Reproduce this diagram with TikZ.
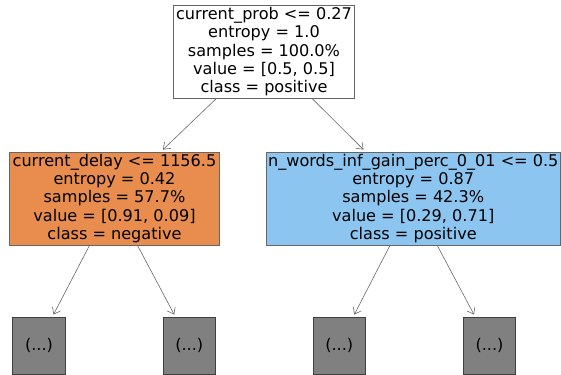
\documentclass[tikz,border=0pt]{standalone}
\usepackage{fontspec}
\setmainfont{DejaVu Sans}
\usetikzlibrary{arrows.meta}
\definecolor{negfill}{RGB}{232,141,77}
\definecolor{posfill}{RGB}{139,197,240}
\definecolor{edgegray}{RGB}{105,105,105}
\tikzset{
  treebox/.style={draw=black!60, line width=0.8pt, inner sep=0pt, align=center,
    font=\fontsize{16.1}{18.2}\selectfont},
  leafbox/.style={draw=black!75, fill=black!50, line width=0.8pt, inner sep=0pt,
    minimum width=52.5pt, minimum height=57.5pt,
    font=\fontsize{16.1}{18.2}\selectfont},
  edge/.style={draw=edgegray, line width=0.6pt,
    -{Straight Barb[length=6pt,width=9pt,line width=0.6pt]}}
}
\begin{document}
\begin{tikzpicture}[x=1pt,y=-1pt]
\useasboundingbox (0,0) rectangle (561,374);
% split nodes
\node[treebox, fill=white, minimum width=181pt, minimum height=93.5pt] (root) at (264,51.75)
  {current\_prob <= 0.27\\entropy = 1.0\\samples = 100.0\%\\value = [0.5, 0.5]\\class = positive};
\node[treebox, fill=negfill, minimum width=210pt, minimum height=93pt] (left) at (114.5,198.5)
  {current\_delay <= 1156.5\\entropy = 0.42\\samples = 57.7\%\\value = [0.91, 0.09]\\class = negative};
\node[treebox, fill=posfill, minimum width=294.5pt, minimum height=93pt] (right) at (413.25,198.5)
  {n\_words\_inf\_gain\_perc\_0\_01 <= 0.5\\entropy = 0.87\\samples = 42.3\%\\value = [0.29, 0.71]\\class = positive};
% truncated subtrees
\node[leafbox] (ll) at (39,345.75) {(...)};
\node[leafbox] (lr) at (189.25,345.75) {(...)};
\node[leafbox] (rl) at (339.25,345.75) {(...)};
\node[leafbox] (rr) at (489.5,345.75) {(...)};
% edges
\draw[edge] ([xshift=-48pt]root.south) -- ([xshift=48.5pt,yshift=2pt]left.north);
\draw[edge] ([xshift=48.5pt]root.south) -- ([xshift=-49.75pt,yshift=2pt]right.north);
\draw[edge] ([xshift=-25pt]left.south) -- ([xshift=14.5pt,yshift=2pt]ll.north);
\draw[edge] ([xshift=23pt]left.south) -- ([xshift=-15pt,yshift=2pt]lr.north);
\draw[edge] ([xshift=-23.25pt]right.south) -- ([xshift=15pt,yshift=2pt]rl.north);
\draw[edge] ([xshift=24pt]right.south) -- ([xshift=-15.5pt,yshift=2pt]rr.north);
\end{tikzpicture}
\end{document}
